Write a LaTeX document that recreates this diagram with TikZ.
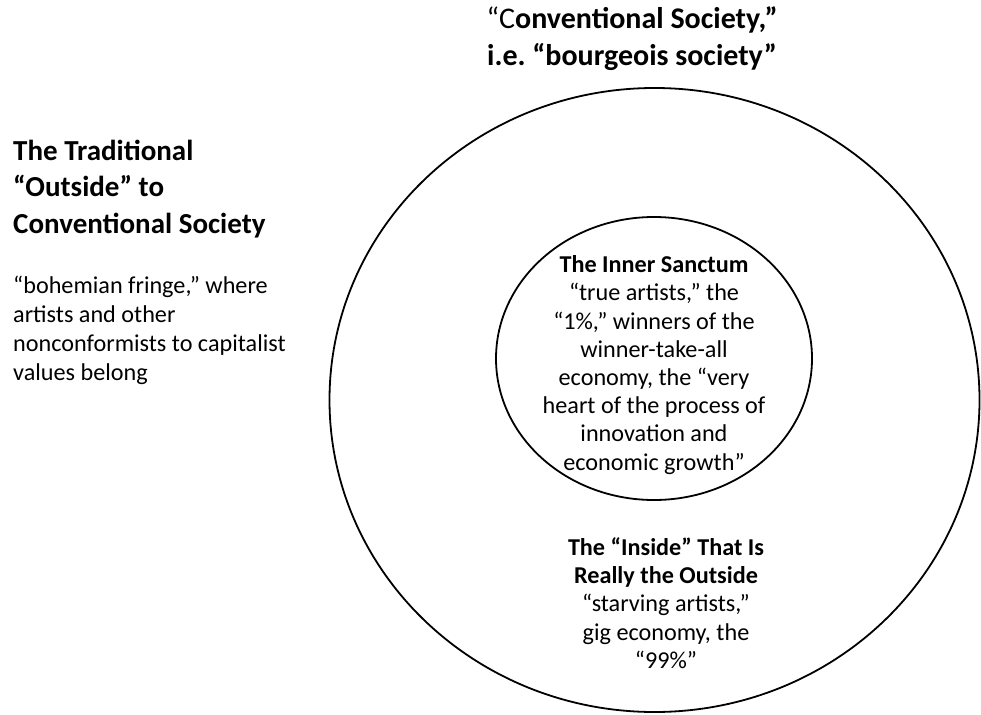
\documentclass[tikz,border=0pt]{standalone}
\usepackage{fontspec}
\setmainfont{Carlito}
\usetikzlibrary{positioning}

\begin{document}
\begin{tikzpicture}[x=1pt, y=-1pt,
		ring/.style={line width=1.8pt},
		head/.style={inner sep=0pt, font=\fontsize{29}{36.5}\selectfont\bfseries},
		body/.style={inner sep=0pt, font=\fontsize{24.2}{28.2}\selectfont}]
	
	\useasboundingbox (0, 0) rectangle (981, 714);
	
	% the two rings
	\draw [ring] (654.5, 400) ellipse [x radius=325pt, y radius=312pt];
	\draw [ring] (654, 358.5) ellipse [x radius=158pt, y radius=141.5pt];
	
	% title over the outer ring
	\node [head, align=center, font=\fontsize{30}{37}\selectfont\bfseries] (title) at (632, 39)
		{{\mdseries “C}onventional Society,”\\ i.e.\ “bourgeois society”};
	
	% the outside, left of the rings
	\node [head, align=left, anchor=west] (outhead) at (13, 189)
		{The Traditional\\ “Outside” to\\ Conventional Society};
	\node [body, align=left, anchor=west, font=\fontsize{24.2}{29}\selectfont] (outtext) at (13, 330)
		{“bohemian fringe,” where\\ artists and other\\ nonconformists to capitalist\\ values belong};
	
	% inner ring
	\node [body, align=center] (sanctum) at (654, 365)
		{\textbf{The Inner Sanctum}\\ “true artists,” the\\ “1\%,” winners of the\\ winner-take-all\\
		 economy, the “very\\ heart of the process of\\ innovation and\\ economic growth”};
	
	% outer ring, lower part
	\node [body, align=center] (inside) at (666, 603)
		{\textbf{The “Inside” That Is}\\ \textbf{Really the Outside}\\ “starving artists,”\\ gig economy, the\\ “99\%”};
	
\end{tikzpicture}
\end{document}
